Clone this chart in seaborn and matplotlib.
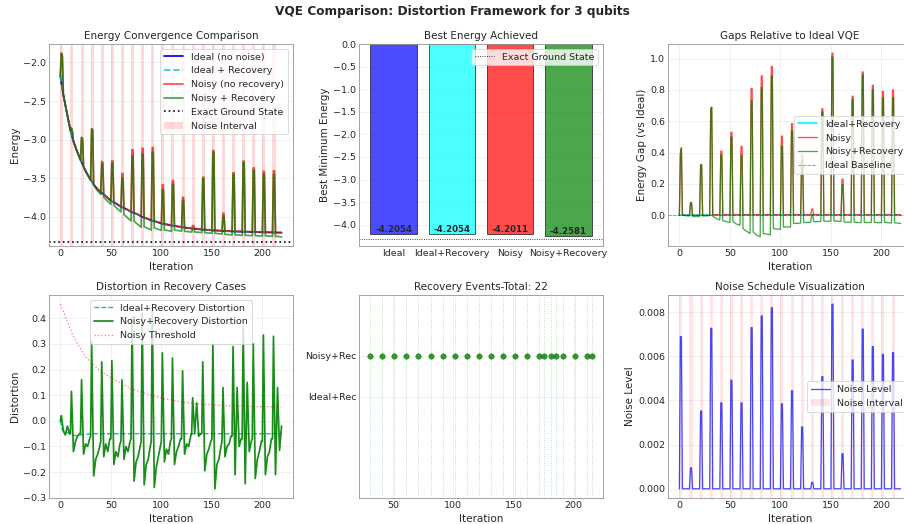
import matplotlib
matplotlib.use("Agg")
import matplotlib.pyplot as plt
import seaborn as sns
from matplotlib.patches import Patch
from matplotlib.lines import Line2D

# ---------------- data ----------------
pulse_starts = [0, 10, 20, 30, 40, 50, 60, 70, 80, 90, 100, 110, 120, 130, 140,
                150, 160, 170, 180, 190, 200, 210]
last_iter = 219

# ideal energy at s, s+1, s+2, s+3, s+6 of every noise interval
ideal_s = [-2.17, -2.88, -3.26, -3.52, -3.68, -3.79, -3.87, -3.935, -3.995, -4.045, -4.085,
           -4.112, -4.134, -4.151, -4.164, -4.174, -4.182, -4.188, -4.192, -4.196, -4.199, -4.202]
ideal_s1 = [-2.27, -2.93, -3.29, -3.54, -3.69, -3.80, -3.875, -3.94, -4.0, -4.049, -4.088,
            -4.114, -4.136, -4.152, -4.165, -4.175, -4.182, -4.188, -4.192, -4.196, -4.199, -4.202]
ideal_s2 = [-2.34, -2.98, -3.32, -3.56, -3.70, -3.805, -3.88, -3.945, -4.005, -4.053, -4.091,
            -4.116, -4.137, -4.153, -4.166, -4.175, -4.183, -4.189, -4.193, -4.196, -4.2, -4.203]
ideal_s3 = [-2.42, -3.02, -3.35, -3.58, -3.71, -3.81, -3.885, -3.95, -4.01, -4.057, -4.094,
            -4.118, -4.139, -4.154, -4.167, -4.176, -4.183, -4.189, -4.193, -4.197, -4.2, -4.203]
ideal_s6 = [-2.62, -3.13, -3.43, -3.63, -3.745, -3.835, -3.905, -3.965, -4.025, -4.068, -4.1,
            -4.124, -4.144, -4.158, -4.17, -4.178, -4.185, -4.19, -4.194, -4.198, -4.201, -4.204]
ideal_final = -4.2054

# gaps relative to ideal
red_peak1 = [0.39, 0.08, 0.32, 0.68, 0.41, 0.53, 0.44, 0.81, 0.89, 0.95, 0.505,
             0.585, 0.39, 0.04, 0.68, 1.035, 0.23, 0.76, 0.915, 0.83, 0.79, 0.80]
red_peak2 = [0.43, 0.08, 0.325, 0.69, 0.41, 0.53, 0.44, 0.81, 0.89, 0.95, 0.505,
             0.585, 0.39, 0.04, 0.68, 1.035, 0.23, 0.76, 0.915, 0.83, 0.79, 0.80]
red_base = [0.0, 0.0, 0.0, 0.004, 0.004, 0.004, 0.004, 0.004, 0.004, 0.004, 0.004,
            0.004, 0.004, 0.004, 0.004, 0.004, 0.004, 0.004, 0.004, 0.004, 0.004, 0.004]
green_peak1 = [0.39, 0.08, 0.32, 0.68, 0.385, 0.50, 0.38, 0.73, 0.815, 0.89, 0.44,
               0.54, 0.35, 0.005, 0.66, 1.01, 0.195, 0.74, 0.895, 0.80, 0.75, 0.75]
green_peak2 = [0.43, 0.08, 0.325, 0.69, 0.385, 0.50, 0.38, 0.73, 0.815, 0.89, 0.44,
               0.54, 0.35, 0.005, 0.66, 1.01, 0.195, 0.74, 0.895, 0.80, 0.75, 0.75]
green_after = [0.0, -0.008, -0.005, -0.005, -0.035, -0.04, -0.085, -0.106, -0.117, -0.085, -0.075,
               -0.053, -0.047, -0.042, -0.038, -0.036, -0.043, -0.045, -0.046, -0.046, -0.045, -0.048]
green_mid = [-0.003, -0.008, -0.004, -0.02, -0.04, -0.055, -0.10, -0.125, -0.12, -0.088, -0.075,
             -0.052, -0.046, -0.041, -0.038, -0.038, -0.044, -0.046, -0.046, -0.047, -0.047, -0.05]
green_end = [-0.005, -0.008, -0.003, -0.03, -0.047, -0.064, -0.117, -0.138, -0.125, -0.09, -0.075,
             -0.05, -0.045, -0.04, -0.038, -0.04, -0.045, -0.047, -0.047, -0.048, -0.05, -0.0527]

exact_ground = -4.325

bar_labels = ["Ideal", "Ideal+Recovery", "Noisy", "Noisy+Recovery"]
bar_values = [-4.2054, -4.2054, -4.2011, -4.2581]
bar_colors = ["#0000ff", "#00ffff", "#ff0000", "#008000"]

# distortion (noisy + recovery): values at s, s+1, s+3, s+5, s+7, s+9
dist_start = [0.0, -0.05, -0.05, -0.06, -0.08, -0.07, -0.08, -0.07, -0.08, -0.08, -0.08,
              -0.07, -0.07, -0.05, -0.05, -0.07, -0.08, -0.06, -0.07, -0.07, -0.08, -0.07]
dist_up = [0.02, 0.115, 0.16, 0.31, 0.23, 0.235, 0.16, 0.40, 0.42, 0.44, 0.265,
           0.245, 0.195, 0.09, 0.23, 0.30, 0.13, 0.29, 0.37, 0.30, 0.335, 0.33]
dist_down = [-0.04, -0.12, -0.13, -0.215, -0.14, -0.17, -0.15, -0.235, -0.25, -0.26, -0.16,
             -0.17, -0.13, -0.05, -0.195, -0.265, -0.14, -0.21, -0.245, -0.225, -0.21, -0.21]
dist_reb1 = [-0.055, -0.08, -0.09, -0.15, -0.09, -0.12, -0.10, -0.16, -0.17, -0.18, -0.11,
             -0.12, -0.09, 0.07, -0.13, -0.17, -0.10, 0.13, 0.15, -0.15, -0.14, 0.13]
dist_reb2 = [-0.02, -0.06, -0.10, -0.13, -0.12, -0.14, -0.12, -0.14, -0.15, -0.14, -0.13,
             -0.10, -0.10, -0.06, -0.11, -0.15, -0.09, -0.10, -0.12, -0.12, -0.12, -0.115]
dist_reb3 = [-0.05, -0.05, -0.07, -0.10, -0.07, -0.09, -0.08, -0.10, -0.10, -0.10, -0.08,
             -0.07, -0.06, -0.05, -0.08, -0.10, -0.06, -0.07, -0.08, -0.08, -0.07, -0.02]

ideal_rec_dist_iter = [0, 2, 6, 15, 25, 35, 219]
ideal_rec_dist = [0.0, -0.035, -0.045, -0.058, -0.052, -0.05, -0.05]

thr_iter = [0, 6, 12, 19, 25, 38, 50, 70, 86, 102, 118, 133, 149, 165, 181, 197, 210, 219]
thr_val = [0.455, 0.396, 0.337, 0.288, 0.249, 0.20, 0.168, 0.126, 0.104, 0.087, 0.076,
           0.067, 0.063, 0.059, 0.057, 0.055, 0.055, 0.055]

rec_events = [31, 41, 51, 61, 71, 81, 91, 101, 111, 121, 131, 141, 151, 161, 171,
              175, 181, 185, 191, 201, 211, 215]

noise_level = [0.00689, 0.00095, 0.00352, 0.00727, 0.00389, 0.00492, 0.00389, 0.0073,
               0.00783, 0.0082, 0.00385, 0.00444, 0.0028, 0.00029, 0.00508, 0.00836,
               0.00159, 0.00583, 0.00723, 0.00644, 0.00609, 0.00617]

# ---------------- assemble line vertices ----------------
it_v, ideal_v, red_g, green_g = [], [], [], []
for k, s in enumerate(pulse_starts):
    it_v += [s, s + 1, s + 2, s + 3, s + 6]
    ideal_v += [ideal_s[k], ideal_s1[k], ideal_s2[k], ideal_s3[k], ideal_s6[k]]
    prev_r = red_base[k - 1] if k > 0 else 0.0
    prev_g = green_end[k - 1] if k > 0 else 0.0
    red_g += [prev_r, red_peak1[k], red_peak2[k], red_base[k], red_base[k]]
    green_g += [prev_g, green_peak1[k], green_peak2[k], green_after[k], green_mid[k]]
it_v.append(last_iter)
ideal_v.append(ideal_final)
red_g.append(red_base[-1])
green_g.append(green_end[-1])
noisy_v = [e + g for e, g in zip(ideal_v, red_g)]
nrec_v = [e + g for e, g in zip(ideal_v, green_g)]
zero_g = [0.0 for _ in it_v]

noise_it, noise_v = [], []
for k, s in enumerate(pulse_starts):
    noise_it += [s, s + 1, s + 2, s + 3]
    noise_v += [0.0, noise_level[k], noise_level[k], 0.0]
noise_it.append(last_iter)
noise_v.append(0.0)

dist_it, dist_v = [], []
for k, s in enumerate(pulse_starts):
    dist_it += [s, s + 1, s + 3, s + 5, s + 7, s + 9]
    dist_v += [dist_start[k], dist_up[k], dist_down[k], dist_reb1[k], dist_reb2[k], dist_reb3[k]]

# ---------------- figure ----------------
BLUE, CYAN_L, CYAN, RED, GREEN = "#0000ff", "#00bfbf", "#00ffff", "#ff0000", "#008000"
DPI = 62.6
sns.set_theme(style="whitegrid", context="notebook")
plt.rcParams.update({"font.family": ["DejaVu Sans"],
                     "xtick.major.size": 0, "ytick.major.size": 0,
                     "xtick.major.pad": 3.5, "ytick.major.pad": 3.5,
                     "axes.edgecolor": "0.6", "axes.linewidth": 1.0})
fig = plt.figure(figsize=(904 / DPI, 524 / DPI), dpi=DPI)
W = 0.2692
lefts = [0.0545, 0.3975, 0.7393]
rows = [(0.5305, 0.3855), (0.0496, 0.3874)]
axs = [[fig.add_axes([l, b, W, h]) for l in lefts] for b, h in rows]
fig.suptitle("VQE Comparison: Distortion Framework for 3 qubits", fontsize=14,
             fontweight="bold", y=0.99, va="top")

# Panel 1: energy convergence
ax = axs[0][0]
sns.lineplot(x=it_v, y=ideal_v, ax=ax, color=BLUE, lw=2)
sns.lineplot(x=it_v, y=ideal_v, ax=ax, color=CYAN_L, lw=2, linestyle="--", alpha=0.8)
sns.lineplot(x=it_v, y=noisy_v, ax=ax, color=RED, lw=2, alpha=0.7)
sns.lineplot(x=it_v, y=nrec_v, ax=ax, color=GREEN, lw=2, alpha=0.7)
ax.axhline(exact_ground, color="k", linestyle=":", lw=2)
for s in pulse_starts:
    ax.axvspan(s, s + 3, color=RED, alpha=0.15, lw=0)
ax.set_title("Energy Convergence Comparison")
ax.set_xlabel("Iteration")
ax.set_ylabel("Energy")
ax.grid(True, alpha=0.3)
h1 = [Line2D([], [], color=BLUE, lw=2), Line2D([], [], color=CYAN_L, lw=2, ls="--", alpha=0.8),
      Line2D([], [], color=RED, lw=2, alpha=0.7), Line2D([], [], color=GREEN, lw=2, alpha=0.7),
      Line2D([], [], color="k", lw=2, ls=":"), Patch(color=RED, alpha=0.15, lw=0)]
ax.legend(h1, ["Ideal (no noise)", "Ideal + Recovery", "Noisy (no recovery)",
               "Noisy + Recovery", "Exact Ground State", "Noise Interval"], loc="upper right")

# Panel 2: best energy
ax = axs[0][1]
sns.barplot(x=bar_labels, y=bar_values, hue=bar_labels, palette=bar_colors, legend=False,
            saturation=1, alpha=0.7, edgecolor="black", linewidth=1, ax=ax)
ax.axhline(exact_ground, color="k", linestyle=":", lw=1)
for i, v in enumerate(bar_values):
    ax.text(i, v, f"{v:.4f}", ha="center", va="bottom", fontweight="bold", fontsize=10)
ax.set_xlim(-0.59, 3.59)
ax.set_title("Best Energy Achieved")
ax.set_ylabel("Best Minimum Energy")
ax.set_xlabel("")
ax.grid(True, axis="y", alpha=0.3)
ax.grid(False, axis="x")
ax.legend([Line2D([], [], color="k", ls=":", lw=1)], ["Exact Ground State"], loc="upper right")

# Panel 3: gaps
ax = axs[0][2]
sns.lineplot(x=it_v, y=zero_g, ax=ax, color=CYAN, lw=2)
sns.lineplot(x=it_v, y=red_g, ax=ax, color=RED, lw=1.5, alpha=0.7)
sns.lineplot(x=it_v, y=green_g, ax=ax, color=GREEN, lw=1.5, alpha=0.7)
ax.axhline(0, color=BLUE, linestyle="--", alpha=0.5, lw=1)
ax.set_title("Gaps Relative to Ideal VQE")
ax.set_xlabel("Iteration")
ax.set_ylabel("Energy Gap (vs Ideal)")
ax.grid(True, alpha=0.3)
h3 = [Line2D([], [], color=CYAN, lw=2), Line2D([], [], color=RED, lw=1.5, alpha=0.7),
      Line2D([], [], color=GREEN, lw=1.5, alpha=0.7),
      Line2D([], [], color=BLUE, ls="--", alpha=0.5, lw=1)]
ax.legend(h3, ["Ideal+Recovery", "Noisy", "Noisy+Recovery", "Ideal Baseline"], loc="center right")

# Panel 4: distortion
ax = axs[1][0]
sns.lineplot(x=ideal_rec_dist_iter, y=ideal_rec_dist, ax=ax, color=CYAN_L, lw=1.5, linestyle="--")
sns.lineplot(x=dist_it, y=dist_v, ax=ax, color=GREEN, lw=2, alpha=0.9)
sns.lineplot(x=thr_iter, y=thr_val, ax=ax, color=RED, lw=1.5, linestyle=":", alpha=0.5)
ax.set_title("Distortion in Recovery Cases")
ax.set_xlabel("Iteration")
ax.set_ylabel("Distortion")
ax.grid(True, alpha=0.3)
h4 = [Line2D([], [], color=CYAN_L, lw=1.5, ls="--"), Line2D([], [], color=GREEN, lw=2, alpha=0.9),
      Line2D([], [], color=RED, lw=1.5, ls=":", alpha=0.5)]
ax.legend(h4, ["Ideal+Recovery Distortion", "Noisy+Recovery Distortion", "Noisy Threshold"],
          loc="upper center")

# Panel 5: recovery events
ax = axs[1][1]
for e in rec_events:
    ax.axvline(e, color=GREEN, linestyle=":", alpha=0.3, lw=1)
sns.scatterplot(x=rec_events, y=[1] * len(rec_events), ax=ax, color=GREEN, s=40,
                alpha=0.8, edgecolor="#006400", zorder=3)
ax.set_yticks([0, 1])
ax.set_yticklabels(["Ideal+Rec", "Noisy+Rec"])
ax.set_ylim(-2.5, 2.5)
ax.set_xticks([50, 100, 150, 200])
ax.set_title(f"Recovery Events-Total: {len(rec_events)}")
ax.set_xlabel("Iteration")
ax.grid(True, alpha=0.3)

# Panel 6: noise schedule
ax = axs[1][2]
sns.lineplot(x=noise_it, y=noise_v, ax=ax, color=BLUE, lw=1.5, alpha=0.7)
for s in pulse_starts:
    ax.axvspan(s, s + 3, color=RED, alpha=0.1, lw=0)
ax.set_title("Noise Schedule Visualization")
ax.set_xlabel("Iteration")
ax.set_ylabel("Noise Level")
ax.grid(True, alpha=0.3)
ax.legend([Line2D([], [], color=BLUE, lw=1.5, alpha=0.7), Patch(color=RED, alpha=0.1, lw=0)],
          ["Noise Level", "Noise Interval"], loc="center right")

fig.savefig("out.png", dpi=DPI)
